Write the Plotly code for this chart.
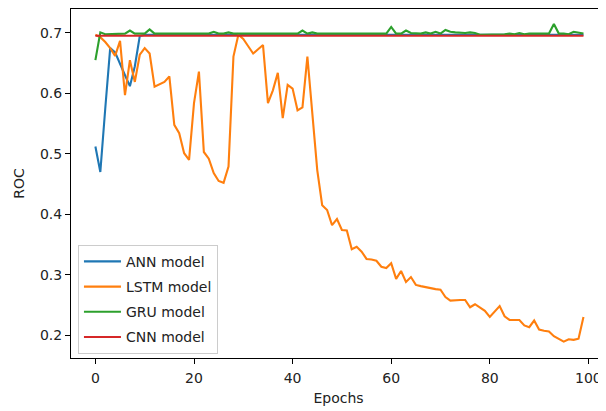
import plotly.graph_objects as go

epochs = list(range(100))

ann = [0.512, 0.470, 0.575, 0.675, 0.668, 0.648, 0.630, 0.612, 0.645, 0.695] + [0.697] * 90

lstm = [0.697, 0.693, 0.685, 0.675, 0.662, 0.687, 0.597, 0.655, 0.619, 0.664,
        0.675, 0.666, 0.611, 0.615, 0.619, 0.628, 0.548, 0.534, 0.501, 0.490,
        0.584, 0.636, 0.503, 0.492, 0.468, 0.455, 0.452, 0.479, 0.661, 0.697,
        0.690, 0.678, 0.666, 0.673, 0.680, 0.584, 0.605, 0.634, 0.559, 0.614,
        0.608, 0.572, 0.577, 0.661, 0.565, 0.473, 0.415, 0.407, 0.382, 0.392,
        0.374, 0.373, 0.342, 0.346, 0.338, 0.326, 0.325, 0.323, 0.313, 0.311,
        0.319, 0.293, 0.306, 0.288, 0.296, 0.283, 0.281, 0.279, 0.277, 0.276,
        0.275, 0.263, 0.257, 0.258, 0.258, 0.258, 0.246, 0.251, 0.246, 0.240,
        0.230, 0.239, 0.248, 0.231, 0.225, 0.225, 0.225, 0.216, 0.213, 0.224,
        0.209, 0.207, 0.206, 0.198, 0.193, 0.189, 0.193, 0.192, 0.194, 0.230]

gru = [0.655, 0.701, 0.698, 0.698, 0.699, 0.699, 0.699, 0.704, 0.699, 0.699,
       0.699, 0.706, 0.699, 0.699, 0.699, 0.699, 0.699, 0.699, 0.699, 0.698,
       0.698, 0.699, 0.698, 0.699, 0.702, 0.699, 0.699, 0.701, 0.699, 0.699,
       0.699, 0.699, 0.699, 0.699, 0.698, 0.699, 0.699, 0.698, 0.698, 0.699,
       0.698, 0.699, 0.704, 0.699, 0.701, 0.699, 0.699, 0.699, 0.699, 0.699,
       0.700, 0.700, 0.699, 0.699, 0.699, 0.699, 0.699, 0.699, 0.699, 0.699,
       0.710, 0.699, 0.699, 0.704, 0.700, 0.699, 0.699, 0.701, 0.699, 0.702,
       0.699, 0.705, 0.702, 0.701, 0.700, 0.700, 0.701, 0.700, 0.697, 0.697,
       0.697, 0.697, 0.698, 0.698, 0.699, 0.698, 0.700, 0.698, 0.699, 0.699,
       0.698, 0.699, 0.699, 0.715, 0.699, 0.699, 0.698, 0.702, 0.701, 0.699]

cnn = [0.6955] * 100

series = [("ANN model", ann, "#1f77b4"), ("LSTM model", lstm, "#ff7f0e"),
          ("GRU model", gru, "#2ca02c"), ("CNN model", cnn, "#d62728")]

fig = go.Figure()
for i, (name, vals, color) in enumerate(series):
    fig.add_trace(go.Scatter(x=epochs, y=vals, mode="lines", name=name,
                             legendgroup=f"g{i}",
                             line=dict(color=color, width=2.1)))

font = dict(family="DejaVu Sans", size=14, color="#222222")
# page body has an 8px default margin; the figure is sized to fill the rest
fig.update_layout(
    width=598, height=403,
    margin=dict(l=63, r=0, t=1, b=53, autoexpand=False),
    paper_bgcolor="white", plot_bgcolor="white",
    font=font,
    showlegend=True,
    legend=dict(x=0.013, y=0.012, xanchor="left", yanchor="bottom",
                bgcolor="rgba(255,255,255,0.8)", bordercolor="#cccccc",
                borderwidth=1, font=font, tracegroupgap=4,
                itemwidth=37),
    xaxis=dict(range=[-4.95, 103.57], tickvals=[0, 20, 40, 60, 80, 100],
               automargin=False, ticklabelstandoff=2,
               showgrid=False, zeroline=False, showline=True, mirror=True,
               linecolor="black", linewidth=1, ticks="outside", ticklen=5,
               tickcolor="black",
               title=dict(text="Epochs", standoff=8, font=font)),
    yaxis=dict(range=[0.162, 0.7397], tickvals=[0.2, 0.3, 0.4, 0.5, 0.6, 0.7],
               tickformat=".1f", automargin=False,
               showgrid=False, zeroline=False, showline=True, mirror=False,
               linecolor="black", linewidth=1, ticks="outside", ticklen=5,
               tickcolor="black",
               title=dict(text="ROC", standoff=12, font=font)),
)

fig.write_html("out.html")
